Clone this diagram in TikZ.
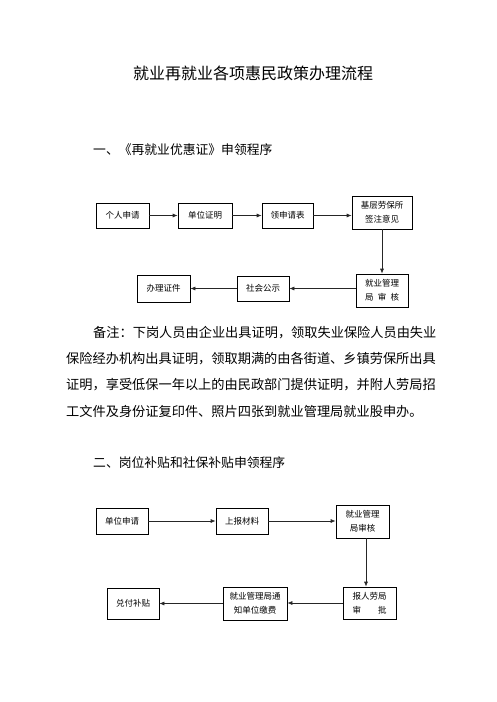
\documentclass[tikz,border=0pt]{standalone}
\usepackage{fontspec}
\setmainfont{Noto Sans CJK SC}
\usetikzlibrary{arrows.meta}

\tikzset{
  box/.style={draw=black, line width=0.7pt, inner sep=2pt, align=center,
    font=\fontsize{8.5}{14}\selectfont},
  flow/.style={draw=black!85, line width=0.7pt, -{Latex[length=5pt,width=4pt]}},
  line/.style={anchor=west, inner sep=0pt, font=\fontsize{13.2}{14}\selectfont},
}

\begin{document}
\begin{tikzpicture}[x=1pt, y=-1pt]
	\useasboundingbox (0,0) rectangle (496,702);
	% title and headings
	\node[inner sep=0pt, font=\fontsize{16}{18}\selectfont] (title) at (253,73) {就业再就业各项惠民政策办理流程};
	\node[line, font=\fontsize{12.8}{14}\selectfont] (head1) at (93,150) {一、《再就业优惠证》申领程序};
	% flow one
	\node[box, minimum width=53pt, minimum height=25pt] (grsq) at (122.5,215.5) {个人申请};
	\node[box, minimum width=54pt, minimum height=25pt] (dwzm) at (205,215.5) {单位证明};
	\node[box, minimum width=51pt, minimum height=25pt] (lsqb) at (287.5,215.5) {领申请表};
	\node[box, minimum width=60pt, minimum height=33pt] (jcyj) at (382,212.5) {基层劳保所\\签注意见};
	\node[box, minimum width=52pt, minimum height=33pt] (jyshA) at (382,290.5) {就业管理\\局\hspace{0.5em}审\hspace{0.5em}核};
	\node[box, minimum width=52pt, minimum height=25pt] (shgs) at (263,288.5) {社会公示};
	\node[box, minimum width=53pt, minimum height=27pt] (blzj) at (163.5,288.5) {办理证件};
	\draw[flow] (grsq) -- (dwzm);
	\draw[flow] (dwzm) -- (lsqb);
	\draw[flow] (lsqb.east) -- (lsqb.east -| jcyj.west);
	\draw[flow] (jcyj) -- (jyshA);
	\draw[flow] (jyshA.west |- shgs.east) -- (shgs.east);
	\draw[flow] (shgs) -- (blzj);
	% note
	\node[line] (note1) at (93,333) {备注：下岗人员由企业出具证明，领取失业保险人员由失业};
	\node[line] (note2) at (66,359) {保险经办机构出具证明，领取期满的由各街道、乡镇劳保所出具};
	\node[line] (note3) at (66,385) {证明，享受低保一年以上的由民政部门提供证明，并附人劳局招};
	\node[line] (note4) at (66,411) {工文件及身份证复印件、照片四张到就业管理局就业股申办。};
	\node[line, font=\fontsize{12.8}{14}\selectfont] (head2) at (93,463) {二、岗位补贴和社保补贴申领程序};
	% flow two
	\node[box, minimum width=52pt, minimum height=26pt] (dwsq) at (122,521) {单位申请};
	\node[box, minimum width=52pt, minimum height=26pt] (sbcl) at (242,521) {上报材料};
	\node[box, minimum width=53pt, minimum height=33pt] (jyshB) at (362.5,521.5) {就业管理\\局审核};
	\node[box, minimum width=53pt, minimum height=32pt] (brlj) at (369.5,603) {报人劳局\\审\hspace{2em}批};
	\node[box, minimum width=64pt, minimum height=33pt] (tzjf) at (255,603.5) {就业管理局通\\知单位缴费};
	\node[box, minimum width=52pt, minimum height=31pt] (dfbt) at (133,603.5) {兑付补贴};
	\draw[flow] (dwsq) -- (sbcl);
	\draw[flow] (sbcl.east) -- (sbcl.east -| jyshB.west);
	\draw[flow] ([xshift=3.5pt]jyshB.south) -- ([xshift=3.5pt]jyshB.south |- brlj.north);
	\draw[flow] (brlj.west) -- (brlj.west -| tzjf.east);
	\draw[flow] (tzjf) -- (dfbt);
\end{tikzpicture}
\end{document}
